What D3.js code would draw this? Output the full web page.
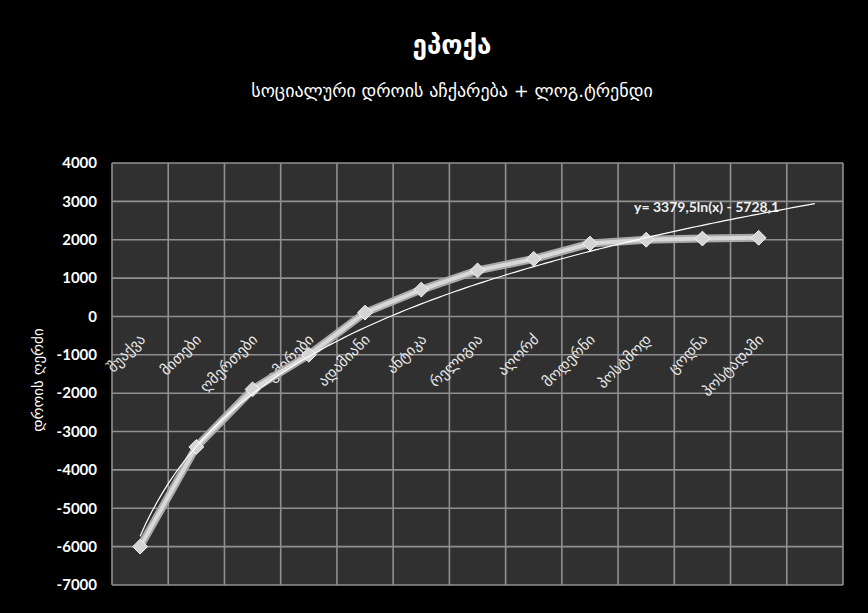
<!DOCTYPE html>
<html>
<head>
<meta charset="utf-8">
<script src="https://cdn.jsdelivr.net/npm/d3@7"></script>
<style>
  html, body { margin: 0; padding: 0; background: #000; }
  svg { display: block; }
</style>
</head>
<body>
<svg id="chart" width="868" height="613"></svg>
<script>
// --- data ---
const epochs = ["შუაქვა", "მითები", "ღმერთები", "გმირები", "ადამიანი", "ანტიკა",
                "რელიგია", "აღორძ", "მოდერნი", "პოსტმოდ", "ცოდნა", "პოსტადამი"];
const years = [-6000, -3400, -1900, -1000, 100, 700, 1200, 1500, 1900, 2000, 2030, 2050];
const yTicks = [4000, 3000, 2000, 1000, 0, -1000, -2000, -3000, -4000, -5000, -6000, -7000];
const trend = { a: 3379.5, b: -5728.1, label: "y= 3379,5ln(x) - 5728,1" };
const slots = d3.range(1, 14); // 12 epochs + one forecast period

const svg = d3.select("#chart");
const plot = { left: 112, right: 843, top: 163, bottom: 585 };

const x = d3.scaleBand().domain(slots).range([plot.left, plot.right]).padding(0);
const cx = i => x(i) + x.bandwidth() / 2;
const y = d3.scaleLinear().domain([-7000, 4000]).range([plot.bottom, plot.top]);

// plot background
svg.append("rect")
    .attr("x", plot.left).attr("y", plot.top)
    .attr("width", plot.right - plot.left).attr("height", plot.bottom - plot.top)
    .attr("fill", "#303030");

// grid
const grid = svg.append("g").attr("stroke", "#909090").attr("stroke-width", 1.6);
grid.selectAll("line.h").data(yTicks).join("line")
    .attr("x1", plot.left).attr("x2", plot.right)
    .attr("y1", d => y(d)).attr("y2", d => y(d));
grid.selectAll("line.v").data(slots.concat([14])).join("line")
    .attr("x1", d => d === 14 ? plot.right : x(d)).attr("x2", d => d === 14 ? plot.right : x(d))
    .attr("y1", plot.top).attr("y2", plot.bottom);

// titles
svg.append("text").attr("x", 452).attr("y", 54).attr("text-anchor", "middle")
    .attr("fill", "#fff").attr("font-family", "'DejaVu Sans'").attr("font-weight", "bold")
    .attr("font-size", 26).text("ეპოქა");
svg.append("text").attr("x", 452).attr("y", 97).attr("text-anchor", "middle")
    .attr("fill", "#fff").attr("font-family", "'DejaVu Sans'")
    .attr("font-size", 18).text("სოციალური  დროის აჩქარება + ლოგ.ტრენდი");

// y axis labels
svg.append("g").selectAll("text").data(yTicks).join("text")
    .attr("x", 97).attr("y", d => y(d)).attr("dy", "0.35em")
    .attr("text-anchor", "end").attr("fill", "#fff")
    .attr("font-family", "Lato, 'Open Sans', sans-serif").attr("font-weight", "bold")
    .attr("font-size", 15).text(d => d);

svg.append("text")
    .attr("transform", `translate(38,${(plot.top + plot.bottom) / 2 + 6}) rotate(-90)`)
    .attr("text-anchor", "middle").attr("dy", "0.35em")
    .attr("fill", "#fff").attr("font-family", "'DejaVu Sans'").attr("font-size", 15)
    .text("დროის ღერძი");

// category labels (rotated, hanging under the zero line)
svg.append("g").selectAll("text").data(epochs).join("text")
    .attr("transform", (d, i) => `translate(${cx(i + 1) + 6},${y(0) + 24}) rotate(-45)`)
    .attr("text-anchor", "end")
    .attr("fill", "#e6e6e6").attr("font-family", "'DejaVu Sans'").attr("font-size", 15)
    .text(d => d);

// data line
const pts = years.map((v, i) => ({ i: i + 1, v }));
const line = d3.line().x(d => cx(d.i)).y(d => y(d.v));
svg.append("path").datum(pts).attr("d", line)
    .attr("fill", "none").attr("stroke", "#a9a9a9").attr("stroke-width", 8)
    .attr("stroke-linejoin", "round");
svg.append("path").datum(pts).attr("d", line)
    .attr("fill", "none").attr("stroke", "#d8d8d8").attr("stroke-width", 4)
    .attr("stroke-linejoin", "round");

// markers
svg.append("g").selectAll("path").data(pts).join("path")
    .attr("transform", d => `translate(${cx(d.i)},${y(d.v)})`)
    .attr("d", d3.symbol(d3.symbolDiamond2, 140))
    .attr("fill", "#d4d4d4").attr("stroke", "#f4f4f4").attr("stroke-width", 1);

// log trendline, forecast one period forward
const trendPts = d3.range(1, 13.001, 0.1).map(t => ({ t, v: trend.a * Math.log(t) + trend.b }));
const tx = d3.scaleLinear().domain([1, 13]).range([cx(1), cx(13)]);
svg.append("path").datum(trendPts)
    .attr("d", d3.line().x(d => tx(d.t)).y(d => y(d.v)))
    .attr("fill", "none").attr("stroke", "#fff").attr("stroke-width", 1.2);

svg.append("text").attr("x", 634).attr("y", y(2720)).attr("fill", "#f0f0f0")
    .attr("font-family", "Lato, 'Open Sans', sans-serif").attr("font-weight", "bold")
    .attr("font-size", 14).text(trend.label);
</script>
</body>
</html>
